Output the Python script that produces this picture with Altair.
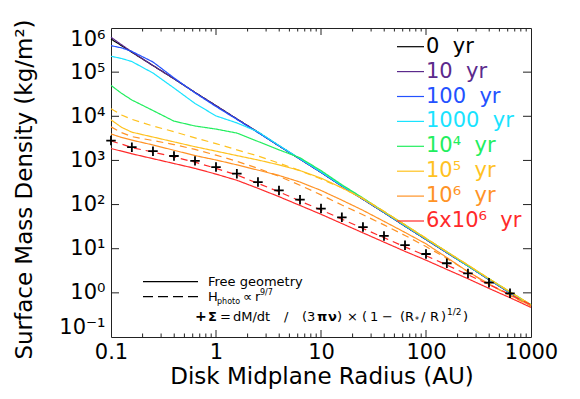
import json
import altair as alt
import pandas as pd

# ---------------- data ----------------
radius = [0.1, 0.126, 0.158, 0.251, 0.398, 0.631, 1.0, 1.58, 2.51, 3.98, 6.31,
          10.0, 15.8, 25.1, 39.8, 63.1, 100.0, 158.0, 251.0, 398.0, 631.0, 1000.0]

series_names = ["0\u00a0\u00a0yr", "10\u00a0\u00a0yr", "100\u00a0\u00a0yr", "1000\u00a0\u00a0yr",
                "10\u2074\u00a0\u00a0yr", "10\u2075\u00a0\u00a0yr", "10\u2076\u00a0\u00a0yr",
                "6x10\u2076\u00a0\u00a0yr"]
series_colors = ["#000000", "#5b2a8c", "#2351ff", "#19e3ff", "#22ee5e", "#ffc21f", "#ff9326", "#ff2a2a"]

# Free geometry (solid lines)
free_0yr = [5.62e5, 3.98e5, 2.82e5, 1.41e5, 7.08e4, 3.47e4, 1.74e4, 8710, 4365, 2138, 1072,
            537, 263, 132, 66.1, 32.4, 16.2, 8.13, 4.07, 2.00, 1.00, 0.513]
free_10yr = [6.17e5, 4.17e5, 2.88e5, 1.41e5, 7.08e4, 3.47e4, 1.74e4, 8710, 4365, 2138, 1072,
             537, 263, 132, 66.1, 32.4, 16.2, 8.13, 4.07, 2.00, 1.00, 0.513]
free_100yr = [3.98e5, 3.55e5, 2.95e5, 1.70e5, 7.41e4, 3.39e4, 1.66e4, 8511, 4266, 2138, 1072,
              537, 263, 132, 66.1, 33.1, 16.2, 8.13, 4.07, 2.00, 1.00, 0.513]
free_1000yr = [2.29e5, 2.04e5, 1.74e5, 9.55e4, 4.37e4, 1.95e4, 1.02e4, 7079, 4467, 2188, 1096,
               550, 269, 135, 67.6, 33.1, 16.6, 8.32, 4.07, 2.04, 1.02, 0.525]
free_1e4yr = [5.01e4, 3.31e4, 2.34e4, 1.35e4, 7762, 6026, 5129, 4169, 2692, 1738, 1148,
              589, 282, 141, 69.2, 34.7, 17.0, 8.51, 4.17, 2.09, 1.05, 0.537]
free_1e5yr = [8318, 5623, 4365, 3388, 2630, 2042, 1622, 1288, 1023, 794, 589,
              398, 240, 135, 69.2, 34.7, 17.0, 8.51, 4.27, 2.09, 1.05, 0.537]
free_1e6yr = [3981, 3311, 2884, 2239, 1698, 1288, 1023, 794, 603, 457, 324,
              209, 126, 74.1, 41.7, 23.4, 12.9, 6.31, 3.02, 1.58, 0.891, 0.513]
free_6e6yr = [1862, 1622, 1413, 1096, 851, 661, 490, 355, 234, 151, 95.5,
              60.3, 37.2, 22.9, 14.1, 8.71, 5.50, 3.39, 2.09, 1.26, 0.776, 0.468]

# H_photo ~ r^(9/7) (dashed lines)
photo_1e5yr = [1.48e4, 1.07e4, 8511, 6026, 4467, 3236, 2399, 1738, 1259, 871, 589,
               380, 240, 138, 70.8, 34.7, 17.4, 8.51, 4.27, 2.09, 1.05, 0.537]
photo_1e6yr = [5754, 4266, 3467, 2818, 2291, 1778, 1318, 955, 661, 437, 275,
               166, 97.7, 58.9, 34.7, 20.0, 11.2, 6.03, 3.02, 1.55, 0.871, 0.501]
photo_6e6yr = [2754, 2344, 1950, 1549, 1202, 912, 661, 468, 302, 195, 120,
               75.9, 46.8, 28.8, 17.8, 11.0, 6.92, 4.27, 2.57, 1.55, 0.912, 0.537]

# analytic steady state (+ markers)
analytic_radius = [0.1, 0.158, 0.251, 0.398, 0.631, 1.0, 1.58, 2.51, 3.98, 6.31,
                   10.0, 15.8, 25.1, 39.8, 63.1, 100.0, 158.0, 251.0, 398.0, 631.0]
analytic_sigma = [2818, 1995, 1622, 1259, 977, 708, 501, 324, 209, 129,
                  81.3, 51.3, 30.9, 19.5, 12.0, 7.59, 4.68, 2.75, 1.70, 0.977]

x_tick_values = [0.1, 1, 10, 100, 1000]
x_tick_labels = ["0.1", "1", "10", "100", "1000"]
x_minor_values = [m * d for d in [0.1, 1, 10, 100] for m in range(2, 10)]
y_tick_values = [0.1, 1, 10, 100, 1e3, 1e4, 1e5, 1e6]
y_tick_labels = ["10\u207b\u00b9", "10\u2070", "10\u00b9", "10\u00b2", "10\u00b3",
                 "10\u2074", "10\u2075", "10\u2076"]

x_title = "Disk Midplane Radius (AU)"
y_title = "Surface Mass Density (kg/m\u00b2)"

# ---------------- build tables ----------------
free_sets = [free_0yr, free_10yr, free_100yr, free_1000yr, free_1e4yr, free_1e5yr, free_1e6yr, free_6e6yr]
photo_sets = {5: photo_1e5yr, 6: photo_1e6yr, 7: photo_6e6yr}
rows = []
for i, vals in enumerate(free_sets):
    for r, s in zip(radius, vals):
        rows.append({"r": r, "sigma": s, "series": series_names[i], "geom": "free"})
for i, vals in photo_sets.items():
    for r, s in zip(radius, vals):
        rows.append({"r": r, "sigma": s, "series": series_names[i], "geom": "photo"})
df_lines = pd.DataFrame(rows)
df_pts = pd.DataFrame({"r": analytic_radius, "sigma": analytic_sigma})

# ---------------- layout ----------------
W, H = 420, 309
FONT = "DejaVu Sans"

xs = alt.Scale(type="log", domain=[0.1, 1000], nice=False)
ys = alt.Scale(type="log", domain=[0.1, 1e6], nice=False)
x_axis = alt.Axis(values=x_tick_values,
                  labelExpr=json.dumps(x_tick_labels) + "[round(log(datum.value)/LN10)+1]",
                  ticks=False, domain=False, grid=False, labelFont=FONT, labelFontSize=21,
                  labelColor="#000", labelPadding=4, labelFlush=False, title=None, labelOverlap=False)
y_axis = alt.Axis(values=y_tick_values,
                  labelExpr=json.dumps(y_tick_labels, ensure_ascii=False) + "[round(log(datum.value)/LN10)+1]",
                  ticks=False, domain=False, grid=False, labelFont=FONT, labelFontSize=21,
                  labelColor="#000", labelPadding=6, labelFlush=True, title=None, labelOverlap=False)


def X(field="r"):
    return alt.X(f"{field}:Q", scale=xs, axis=x_axis)


def Y(field="sigma"):
    return alt.Y(f"{field}:Q", scale=ys, axis=y_axis)


color_scale = alt.Scale(domain=series_names, range=series_colors)

lines = alt.Chart(df_lines).mark_line(strokeWidth=1.2).encode(
    x=X(), y=Y(),
    color=alt.Color("series:N", scale=color_scale, legend=None),
    strokeDash=alt.StrokeDash("geom:N", scale=alt.Scale(domain=["free", "photo"], range=[[1, 0], [7, 5]]),
                              legend=None),
)

pts = alt.Chart(df_pts).mark_point(shape="M-1,0L1,0M0,-1L0,1", filled=False, size=90,
                                   strokeWidth=1.8, color="#000", opacity=1).encode(x=X(), y=Y())

# inward tick marks on all four sides
df_xmaj = pd.DataFrame({"r": x_tick_values[1:-1]})
df_xmin = pd.DataFrame({"r": x_minor_values})
df_ymaj = pd.DataFrame({"sigma": y_tick_values[1:-1]})
tick_style = dict(color="#222", strokeWidth=1)
ticks = [
    alt.Chart(df_xmaj).mark_rule(**tick_style).encode(x=X(), y=alt.value(H), y2=alt.value(H - 7)),
    alt.Chart(df_xmin).mark_rule(**tick_style).encode(x=X(), y=alt.value(H), y2=alt.value(H - 3.5)),
    alt.Chart(df_xmaj).mark_rule(**tick_style).encode(x=X(), y=alt.value(0), y2=alt.value(7)),
    alt.Chart(df_xmin).mark_rule(**tick_style).encode(x=X(), y=alt.value(0), y2=alt.value(3.5)),
    alt.Chart(df_ymaj).mark_rule(**tick_style).encode(y=Y(), x=alt.value(0), x2=alt.value(8)),
    alt.Chart(df_ymaj).mark_rule(**tick_style).encode(y=Y(), x=alt.value(W), x2=alt.value(W - 8)),
]

# colour legend (upper right)
df_leg = pd.DataFrame({"series": series_names, "row": list(range(len(series_names)))})
leg_base = alt.Chart(df_leg).transform_calculate(
    sigma=f"pow(10, 6 - (18.7 + 24.9*datum.row)*7/{H})")
leg_lines = leg_base.mark_rule(strokeWidth=1.2).encode(
    x=alt.value(286), x2=alt.value(313), y=Y(),
    color=alt.Color("series:N", scale=color_scale, legend=None))
leg_text = leg_base.mark_text(align="left", baseline="middle", font=FONT, fontSize=21).encode(
    x=alt.value(315), y=Y(), text="series:N",
    color=alt.Color("series:N", scale=color_scale, legend=None))


def label(text, x, y, size=13, **kw):
    opts = dict(align="left", baseline="middle", font=FONT, fontSize=size, color="#000")
    opts.update(kw)
    return alt.Chart(pd.DataFrame({"t": [text]})).mark_text(**opts).encode(
        x=alt.value(x), y=alt.value(y), text="t:N")


def sample(y, dash):
    return alt.Chart(pd.DataFrame({"t": [0]})).mark_rule(color="#000", strokeWidth=1.2, strokeDash=dash).encode(
        x=alt.value(32), x2=alt.value(87), y=alt.value(y))


OX = 111  # left edge of the plot in page pixels (for reading positions off the reference)
FY = 288.7
notes = [
    sample(253.7, [1, 0]),
    sample(268.7, [10, 5]),
    label("Free geometry", 97, 253.7),
    label("H", 97, 268.7),
    label("photo", 106, 273.5, size=8),
    label("\u221d", 132, 268.7),
    label("r", 144, 268.7),
    label("9/7", 149, 265, size=8),
    # formula line
    label("+", 195 - OX, FY, size=14, fontWeight="bold"),
    label("\u03a3", 208 - OX, FY, fontWeight="bold"),
    label("=", 220 - OX, FY),
    label("dM/dt", 233 - OX, FY),
    label("/", 284 - OX, FY),
    label("(", 302 - OX, FY),
    label("3", 307 - OX, FY),
    label("\u03c0", 317 - OX, FY, fontWeight="bold"),
    label("\u03bd", 328 - OX, FY, fontWeight="bold"),
    label(")", 337 - OX, FY),
    label("\u00d7", 347 - OX, FY),
    label("(", 362 - OX, FY),
    label("1", 370 - OX, FY),
    label("\u2212", 382 - OX, FY),
    label("(", 400 - OX, FY),
    label("R", 405 - OX, FY),
    label("*", 415 - OX, FY + 4, size=8),
    label("/", 421 - OX, FY),
    label("R", 430 - OX, FY),
    label(")", 441 - OX, FY),
    label("1/2", 447 - OX, FY - 5, size=9),
    label(")", 463 - OX, FY),
    # axis titles
    label(x_title, 211, 349, size=23, align="center"),
    label(y_title, -86, 161.5, size=23, align="center", angle=270),
]

chart = alt.layer(lines, pts, *ticks, leg_lines, leg_text, *notes).properties(
    width=W, height=H,
    autosize=alt.AutoSizeParams(type="none"),
    padding={"left": 103, "top": 20, "right": 40, "bottom": 62},
).configure_view(stroke="#222", strokeWidth=1)

chart.save("out.html", embed_options={"renderer": "svg", "actions": False})
